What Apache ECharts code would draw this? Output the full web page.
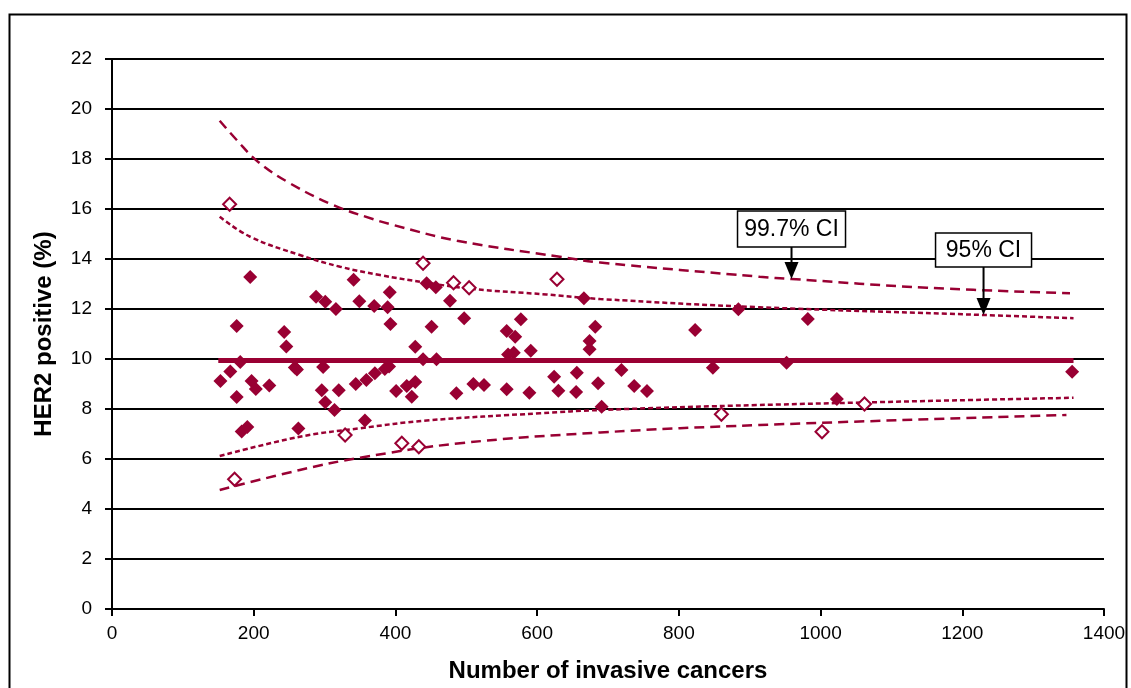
<!DOCTYPE html>
<html>
<head>
<meta charset="utf-8">
<script src="https://cdn.jsdelivr.net/npm/echarts/dist/echarts.min.js"></script>
<style>
  html, body { margin: 0; padding: 0; background: #ffffff; }
  #chart { width: 1131px; height: 688px; }
</style>
</head>
<body>
<div id="chart"></div>
<script>
// Units inside the control limits: [number of invasive cancers, HER2 positive %]
const unitsInside = [
  [153, 9.12], [167, 9.5], [176, 8.48], [176, 11.32], [181, 9.88], [183, 7.1], [191, 7.28],
  [195, 13.28], [197, 9.12], [203, 8.8], [222, 8.94], [243, 11.08], [246, 10.5], [258, 9.66],
  [261, 9.58], [263, 7.22], [288, 12.49], [298, 9.68], [296, 8.75], [301, 12.29], [301, 8.27],
  [314, 7.96], [316, 12.0], [320, 8.75], [341, 13.17], [344, 9.0], [349, 12.31], [357, 7.54],
  [359, 9.16], [370, 12.12], [371, 9.43], [385, 9.6], [389, 12.07], [391, 9.7], [392, 12.67],
  [393, 11.4], [401, 8.72], [416, 8.92], [423, 8.49], [428, 10.49], [428, 9.08], [439, 9.99],
  [444, 13.03], [451, 11.29], [457, 12.87], [458, 9.99], [477, 12.33], [486, 8.63], [497, 11.63],
  [510, 9.0], [525, 8.96], [557, 11.12], [557, 8.79], [559, 10.18], [567, 10.25], [569, 10.89],
  [577, 11.59], [589, 8.65], [591, 10.33], [624, 9.29], [630, 8.73], [655, 8.68], [656, 9.45],
  [666, 12.43], [674, 10.72], [674, 10.39], [682, 11.29], [686, 9.03], [691, 8.09], [719, 9.56],
  [737, 8.92], [755, 8.72], [823, 11.16], [848, 9.65], [884, 11.99], [952, 9.85], [982, 11.6],
  [1023, 8.4], [1355, 9.49]
];

// Units outside the 95% limits
const unitsOutside = [
  [166, 16.19], [173, 5.19], [329, 6.96], [409, 6.63], [433, 6.49], [439, 13.83],
  [482, 13.05], [504, 12.85], [628, 13.19], [860, 7.79], [1002, 7.09], [1062, 8.2]
];

// Overall mean
const meanLine = [[150, 9.94], [1357, 9.94]];

// Funnel limits
const upper997 = [
  [152, 19.53], [176, 18.76], [206, 17.89], [251, 17.03], [312, 16.16], [369, 15.59],
  [397, 15.36], [487, 14.73], [632, 14.09], [689, 13.86], [914, 13.29], [959, 13.2],
  [1150, 12.85], [1352, 12.63]
];
const upper95 = [
  [152, 15.69], [195, 14.89], [265, 14.16], [322, 13.69], [378, 13.36], [444, 13.05],
  [510, 12.8], [613, 12.58], [689, 12.4], [914, 12.07], [1230, 11.76], [1357, 11.63]
];
const lower95 = [
  [152, 6.12], [265, 6.89], [350, 7.23], [444, 7.54], [604, 7.83], [689, 7.96],
  [914, 8.16], [1357, 8.45]
];
const lower997 = [
  [152, 4.76], [265, 5.56], [350, 6.05], [491, 6.63], [689, 7.06], [914, 7.36], [1347, 7.76]
];

// Callouts pointing at the limit curves
const callouts = [
  { text: '99.7% CI', at: [959, 13.2] },
  { text: '95% CI', at: [1230, 11.76] }
];
const calloutLayout = [
  { shaft: 15, boxW: 108, boxH: 36 },
  { shaft: 31, boxW: 96, boxH: 34 }
];

const RED = '#990033';
const FONT = '"Liberation Sans", Arial, sans-serif';

const chart = echarts.init(document.getElementById('chart'));

function limitSeries(data, dash) {
  return {
    type: 'line', data: data, smooth: 0.4, symbol: 'none',
    lineStyle: { color: RED, width: 2.5, type: dash }, silent: true, z: 2
  };
}

chart.setOption({
  animation: false,
  backgroundColor: '#ffffff',
  grid: { left: 112, top: 59, right: 27, bottom: 79 },
  xAxis: {
    type: 'value', min: 0, max: 1400, interval: 200,
    name: 'Number of invasive cancers', nameLocation: 'middle', nameGap: 50,
    nameTextStyle: { fontFamily: FONT, fontSize: 24, fontWeight: 'bold', color: '#000' },
    axisLine: { show: true, onZero: false, lineStyle: { color: '#000', width: 2 } },
    axisTick: { show: true, inside: false, length: 7, lineStyle: { color: '#000', width: 2 } },
    axisLabel: {
      fontFamily: FONT, fontSize: 19, color: '#000', margin: 15,
      formatter: function (v) { return String(v); }
    },
    splitLine: { show: false }
  },
  yAxis: {
    type: 'value', min: 0, max: 22, interval: 2,
    name: 'HER2 positive (%)', nameLocation: 'middle', nameGap: 56, nameRotate: 90,
    nameTextStyle: { fontFamily: FONT, fontSize: 24, fontWeight: 'bold', color: '#000' },
    axisLine: { show: true, onZero: false, lineStyle: { color: '#000', width: 2 } },
    axisTick: { show: true, inside: false, length: 7, lineStyle: { color: '#000', width: 2 } },
    axisLabel: { fontFamily: FONT, fontSize: 19, color: '#000', margin: 20 },
    splitLine: { show: true, lineStyle: { color: '#000', width: 2 } }
  },
  series: [
    limitSeries(upper997, [10, 6]),
    limitSeries(lower997, [10, 6]),
    limitSeries(upper95, [5, 3]),
    limitSeries(lower95, [5, 3]),
    {
      type: 'line', data: meanLine, symbol: 'none', silent: true, z: 3,
      lineStyle: { color: RED, width: 5 }
    },
    {
      type: 'scatter', data: unitsInside, symbol: 'diamond', symbolSize: 14, z: 4,
      itemStyle: { color: RED, opacity: 1 }
    },
    {
      type: 'scatter', data: unitsOutside, symbol: 'diamond', symbolSize: 13, z: 4,
      itemStyle: { color: '#ffffff', borderColor: RED, borderWidth: 2, opacity: 1 }
    }
  ]
});

// Outer frame plus the callout boxes and arrows, placed from the curve points
const graphics = [{
  type: 'rect', left: 7, top: 12, silent: true, z: 100,
  shape: { x: 0, y: 0, width: 1117, height: 700 },
  style: { fill: 'none', stroke: '#000', lineWidth: 2 }
}];

callouts.forEach(function (c, i) {
  const lay = calloutLayout[i];
  const tip = chart.convertToPixel({ gridIndex: 0 }, c.at);
  const headH = 17, headW = 14;
  const headTop = tip[1] - headH;
  const boxBottom = headTop - lay.shaft;
  const boxTop = boxBottom - lay.boxH;
  graphics.push({
    type: 'polygon', silent: true, z: 110,
    shape: { points: [[tip[0] - headW / 2, headTop], [tip[0] + headW / 2, headTop], [tip[0], tip[1]]] },
    style: { fill: '#000' }
  });
  graphics.push({
    type: 'line', silent: true, z: 110,
    shape: { x1: tip[0], y1: boxBottom, x2: tip[0], y2: headTop + 1 },
    style: { stroke: '#000', lineWidth: 2 }
  });
  graphics.push({
    type: 'rect', silent: true, z: 111,
    shape: { x: tip[0] - lay.boxW / 2, y: boxTop, width: lay.boxW, height: lay.boxH },
    style: { fill: '#ffffff', stroke: '#000', lineWidth: 1.5 }
  });
  graphics.push({
    type: 'text', silent: true, z: 112,
    x: tip[0], y: boxTop + lay.boxH / 2 + 1,
    style: {
      text: c.text, fill: '#000', fontFamily: FONT, fontSize: 23,
      align: 'center', verticalAlign: 'middle'
    }
  });
});

chart.setOption({ graphic: graphics });
</script>
</body>
</html>
